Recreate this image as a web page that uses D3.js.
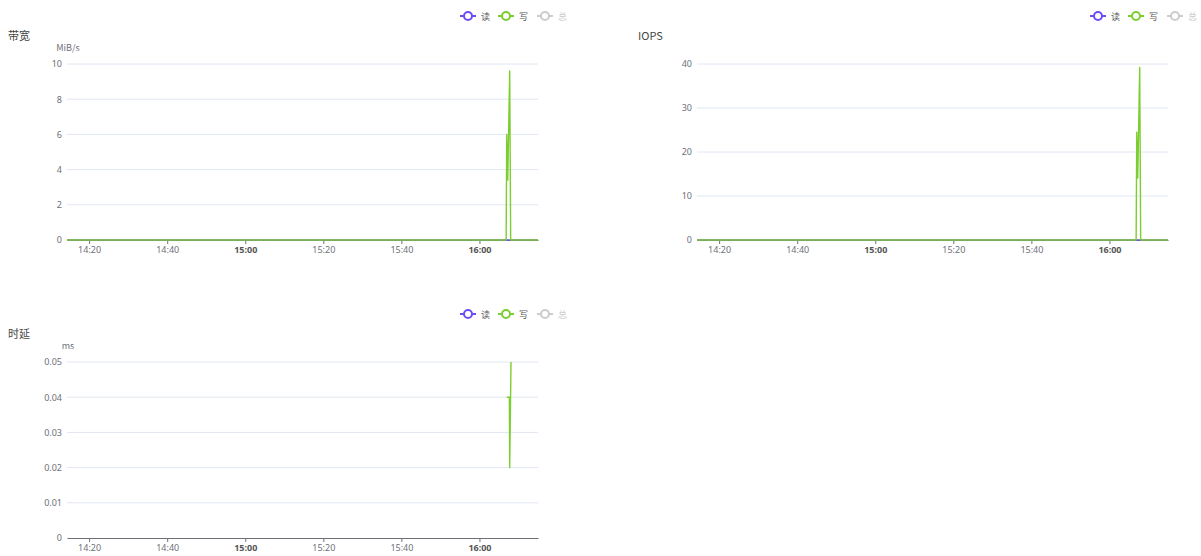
<!DOCTYPE html>
<html>
<head>
<meta charset="utf-8">
<script src="https://cdn.jsdelivr.net/npm/d3@7"></script>
<style>
body{margin:0;background:#fff;}
svg{display:block;font-family:"Noto Sans CJK SC","Noto Sans",sans-serif;}
</style>
</head>
<body>
<svg id="chart" width="1201" height="556"></svg>
<script>
// ---- data ----
const legendNames = ["读", "写", "总"];
const legendColors = ["#6d4cf6", "#7ccd2f", "#cccccc"];
const panelTitles = ["带宽", "IOPS", "时延"];
const panelUnits = ["MiB/s", "", "ms"];
const timeDomain = ["14:14:20", "16:15:00"];

const bwReadTimes = ["14:14:20", "16:15:00"];
const bwReadValues = [0, 0];
const bwWriteTimes = ["14:14:20", "16:06:50", "16:07:00", "16:07:15", "16:07:45", "16:08:00", "16:15:00"];
const bwWriteValues = [0, 0, 6.0, 3.4, 9.6, 0, 0];

const iopsReadTimes = ["14:14:20", "16:15:00"];
const iopsReadValues = [0, 0];
const iopsWriteTimes = ["14:14:20", "16:06:50", "16:07:00", "16:07:15", "16:07:45", "16:08:00", "16:15:00"];
const iopsWriteValues = [0, 0, 24.5, 14.1, 39.2, 0, 0];

const latReadTimes = [];
const latReadValues = [];
const latWriteTimes = ["16:07:00", "16:07:40", "16:07:45", "16:08:05"];
const latWriteValues = [0.04, 0.04, 0.02, 0.05];

const bwTicks = [0, 2, 4, 6, 8, 10];
const iopsTicks = [0, 10, 20, 30, 40];
const latTicks = [0, 0.01, 0.02, 0.03, 0.04, 0.05];

// ---- drawing ----
const parse = d3.timeParse("%H:%M:%S");
const svg = d3.select("#chart");

const panels = [
  {ox: 0, oy: 0, ticks: bwTicks, fmt: d => String(d),
   read: [bwReadTimes, bwReadValues], write: [bwWriteTimes, bwWriteValues]},
  {ox: 630, oy: 0, ticks: iopsTicks, fmt: d => String(d),
   read: [iopsReadTimes, iopsReadValues], write: [iopsWriteTimes, iopsWriteValues]},
  {ox: 0, oy: 298, ticks: latTicks, fmt: d => d === 0 ? "0" : d3.format(".2f")(d),
   read: [latReadTimes, latReadValues], write: [latWriteTimes, latWriteValues]}
];

panels.forEach((p, i) => {
  const g = svg.append("g").attr("transform", `translate(${p.ox},${p.oy})`);
  const left = 67, right = 538, top = 64, bottom = 240;
  const x = d3.scaleTime().domain(timeDomain.map(parse)).range([left, right]);
  const y = d3.scaleLinear().domain([0, d3.max(p.ticks)]).range([bottom, top]);

  // title + unit
  g.append("text").attr("x", 8).attr("y", 40).attr("font-size", 11).attr("fill", "#444")
    .text(panelTitles[i]);
  if (panelUnits[i]) {
    g.append("text").attr("x", 68).attr("y", 51).attr("text-anchor", "middle")
      .attr("font-size", 9).attr("fill", "#6E7079").text(panelUnits[i]);
  }

  // legend
  const lg = g.append("g").attr("transform", "translate(460,16)");
  const itemX = [0, 38, 77];
  legendNames.forEach((n, k) => {
    const it = lg.append("g").attr("transform", `translate(${itemX[k]},0)`);
    it.append("line").attr("x1", 0).attr("x2", 16).attr("y1", 0).attr("y2", 0)
      .attr("stroke", legendColors[k]).attr("stroke-width", 2);
    it.append("circle").attr("cx", 8).attr("cy", 0).attr("r", 4)
      .attr("fill", "#fff").attr("stroke", legendColors[k]).attr("stroke-width", 2);
    it.append("text").attr("x", 21).attr("y", 3.5).attr("font-size", 9)
      .attr("fill", k === 2 ? "#ccc" : "#555").text(n);
  });

  // grid lines
  g.append("g").selectAll("line").data(p.ticks.filter(t => t !== 0)).join("line")
    .attr("x1", left).attr("x2", right).attr("y1", d => y(d)).attr("y2", d => y(d))
    .attr("stroke", "#E0E6F1").attr("stroke-width", 1);

  // y labels
  const ya = d3.axisLeft(y).tickValues(p.ticks).tickFormat(p.fmt).tickSize(0).tickPadding(5);
  const yg = g.append("g").attr("transform", `translate(${left},0)`).call(ya);
  yg.select(".domain").remove();
  yg.selectAll("text").attr("font-size", 9).attr("fill", "#6E7079")
    .style("font-family", '"Noto Sans",sans-serif');

  // x axis
  const xa = d3.axisBottom(x).ticks(d3.timeMinute.every(20)).tickFormat(d3.timeFormat("%H:%M"))
    .tickSize(4).tickSizeOuter(0).tickPadding(3);
  const xg = g.append("g").attr("transform", `translate(0,${bottom})`).call(xa);
  xg.select(".domain").attr("stroke", "#6E7079");
  xg.selectAll(".tick line").attr("stroke", "#6E7079");
  xg.selectAll("text").attr("font-size", 9)
    .style("font-family", '"Noto Sans",sans-serif')
    .attr("font-weight", d => d.getMinutes() === 0 ? "bold" : "normal")
    .attr("fill", d => d.getMinutes() === 0 ? "#555" : "#6E7079");

  // series
  const line = d3.line().x(d => x(d[0])).y(d => y(d[1]));
  const mk = s => s[0].map((t, k) => [parse(t), s[1][k]]);
  [[p.read, legendColors[0]], [p.write, legendColors[1]]].forEach(([s, c]) => {
    const pts = mk(s);
    if (pts.length < 2) return;
    g.append("path").datum(pts).attr("d", line).attr("fill", "none")
      .attr("stroke", c).attr("stroke-width", 1.4).attr("stroke-linejoin", "round");
  });
});
</script>
</body>
</html>
